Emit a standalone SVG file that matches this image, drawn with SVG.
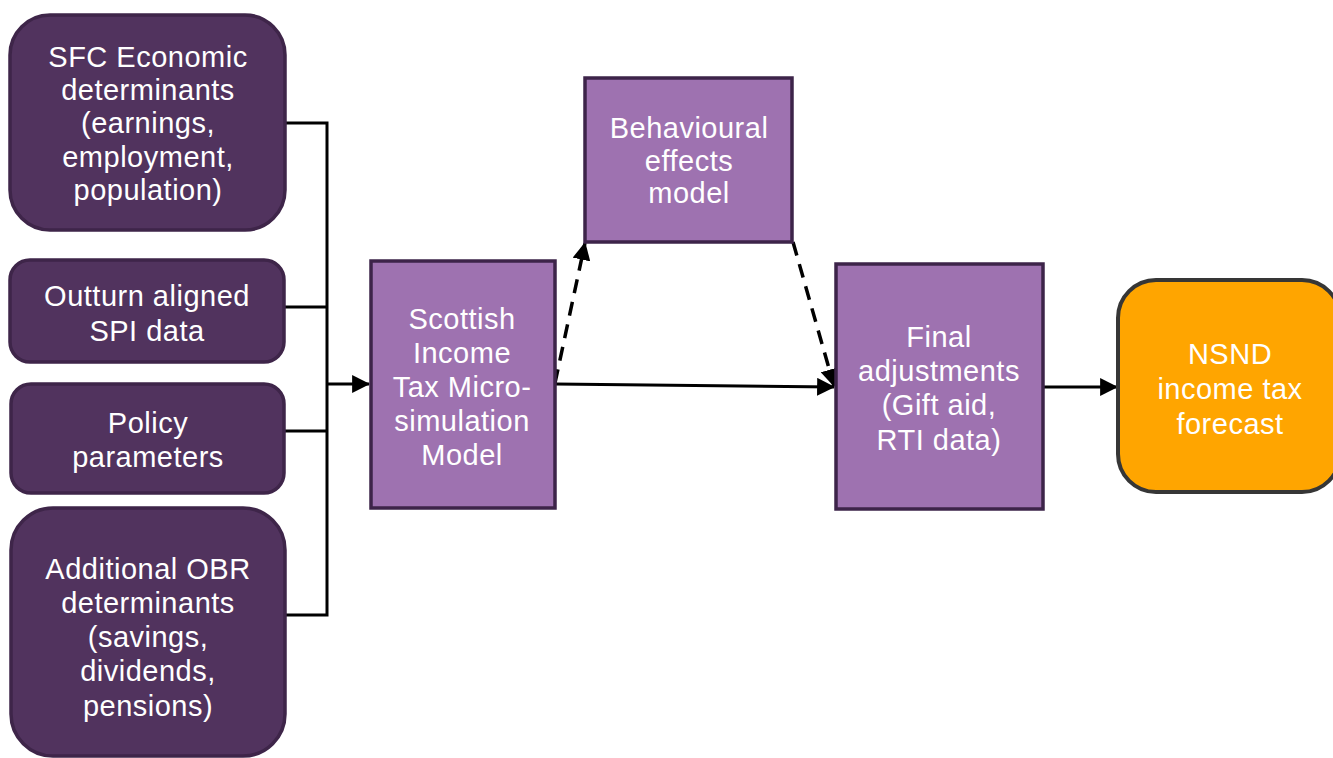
<svg xmlns="http://www.w3.org/2000/svg" width="1333" height="758" viewBox="0 0 1333 758">
<defs>
<style>
.dark{fill:#51335e;stroke:#3e2549;stroke-width:3.5}
.light{fill:#9e72b0;stroke:#3d2449;stroke-width:3.5}
.orange{fill:#ffa500;stroke:#363636;stroke-width:4}
.t{font-family:"Liberation Sans",Arial,sans-serif;font-size:29px;letter-spacing:0.5px;fill:#ffffff;text-anchor:middle}
.c{fill:none;stroke:#000;stroke-width:3}
.d{fill:none;stroke:#000;stroke-width:3.5;stroke-dasharray:14 9}
</style>
<marker id="ah" markerUnits="userSpaceOnUse" markerWidth="18" markerHeight="18" viewBox="0 0 16 16" refX="15" refY="8" orient="auto">
<path d="M0,0 L16,8 L0,16 Z" fill="#000"/>
</marker>
</defs>
<rect width="1333" height="758" fill="#ffffff"/>
<g id="connectors">
<polyline class="c" points="285,123 327,123 327,615 285,615"/>
<line class="c" x1="285" y1="307" x2="327" y2="307"/>
<line class="c" x1="285" y1="431" x2="327" y2="431"/>
<line class="c" x1="327" y1="384" x2="369" y2="384" marker-end="url(#ah)"/>
<line class="c" x1="555" y1="384" x2="834" y2="387" marker-end="url(#ah)"/>
<line class="d" x1="555" y1="383" x2="585" y2="243" marker-end="url(#ah)"/>
<line class="d" x1="793" y1="242" x2="834" y2="386" marker-end="url(#ah)"/>
<line class="c" x1="1043" y1="387" x2="1117" y2="387" marker-end="url(#ah)"/>
</g>
<g id="sfc">
<rect class="dark" x="10" y="15" width="275" height="215" rx="40"/>
<text class="t"><tspan x="148" y="67">SFC Economic</tspan><tspan x="148" y="100">determinants</tspan><tspan x="148" y="133">(earnings,</tspan><tspan x="148" y="167">employment,</tspan><tspan x="148" y="200">population)</tspan></text>
</g>
<g id="outturn">
<rect class="dark" x="10" y="260" width="274" height="102" rx="20"/>
<text class="t"><tspan x="147" y="306">Outturn aligned</tspan><tspan x="147" y="341">SPI data</tspan></text>
</g>
<g id="policy">
<rect class="dark" x="11" y="384" width="273" height="109" rx="20"/>
<text class="t"><tspan x="148" y="433">Policy</tspan><tspan x="148" y="467">parameters</tspan></text>
</g>
<g id="obr">
<rect class="dark" x="11" y="508" width="274" height="248" rx="42"/>
<text class="t"><tspan x="148" y="579">Additional OBR</tspan><tspan x="148" y="613">determinants</tspan><tspan x="148" y="647">(savings,</tspan><tspan x="148" y="681">dividends,</tspan><tspan x="148" y="716">pensions)</tspan></text>
</g>
<g id="scottish">
<rect class="light" x="371" y="261" width="184" height="247"/>
<text class="t"><tspan x="462" y="329">Scottish</tspan><tspan x="462" y="363">Income</tspan><tspan x="462" y="397">Tax Micro-</tspan><tspan x="462" y="431">simulation</tspan><tspan x="462" y="465">Model</tspan></text>
</g>
<g id="behavioural">
<rect class="light" x="585" y="78" width="207" height="164"/>
<text class="t"><tspan x="689" y="138">Behavioural</tspan><tspan x="689" y="171">effects</tspan><tspan x="689" y="203">model</tspan></text>
</g>
<g id="final">
<rect class="light" x="836" y="264" width="207" height="245"/>
<text class="t"><tspan x="939" y="347">Final</tspan><tspan x="939" y="381">adjustments</tspan><tspan x="939" y="415">(Gift aid,</tspan><tspan x="939" y="450">RTI data)</tspan></text>
</g>
<g id="nsnd">
<rect class="orange" x="1118" y="280" width="222" height="212" rx="38"/>
<text class="t"><tspan x="1230" y="364">NSND</tspan><tspan x="1230" y="399">income tax</tspan><tspan x="1230" y="434">forecast</tspan></text>
</g>
</svg>
